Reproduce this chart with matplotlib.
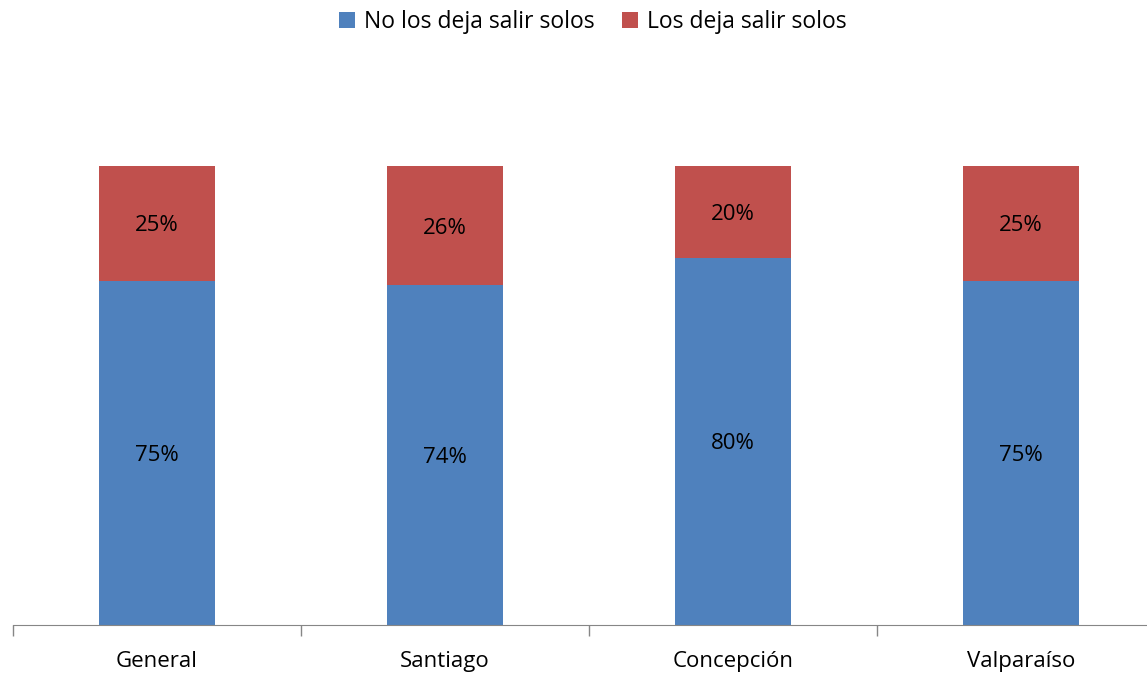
import matplotlib.pyplot as plt
import numpy as np

plt.rcParams['font.family'] = ['Open Sans', 'DejaVu Sans']

categories = ["General", "Santiago", "Concepción", "Valparaíso"]
no_solos = [0.75, 0.74, 0.80, 0.75]
si_solos = [0.25, 0.26, 0.20, 0.25]
series_names = ["No los deja salir solos", "Los deja salir solos"]

blue = "#4F81BD"
red = "#C0504D"

W, H = 1147, 674
fig = plt.figure(figsize=(W / 100, H / 100), dpi=100)
ax = fig.add_axes([13 / W, (H - 625) / H, 1152 / W, 1.2 * 459 / H])

x = np.arange(len(categories))
b1 = ax.bar(x, no_solos, width=0.4, color=blue, label=series_names[0])
b2 = ax.bar(x, si_solos, width=0.4, bottom=no_solos, color=red, label=series_names[1])

# labels in the middle of each segment
for i in range(len(categories)):
    ax.text(x[i], no_solos[i] / 2, f"{no_solos[i]:.0%}", ha="center",
            va="center_baseline", fontsize=16)
    ax.text(x[i], no_solos[i] + si_solos[i] / 2, f"{si_solos[i]:.0%}", ha="center",
            va="center_baseline", fontsize=16)

ax.set_xlim(-0.5, 3.5)
ax.set_ylim(0, 1.2)
for s in ["top", "right", "left"]:
    ax.spines[s].set_visible(False)
ax.spines["bottom"].set_color("#868686")
ax.set_yticks([])
ax.set_xticks(np.arange(-0.5, 4, 1), minor=True)
ax.set_xticks(x)
ax.set_xticklabels(categories, fontsize=16)
ax.tick_params(axis="x", which="major", length=0, pad=19)
ax.tick_params(axis="x", which="minor", length=8, color="#868686", width=1)

fig.legend(handles=[b1, b2], loc="center", bbox_to_anchor=(593 / W, 1 - 22 / H),
           ncol=2, frameon=False, fontsize=16.5, handlelength=0.7, handleheight=0.7,
           handletextpad=0.4, columnspacing=1.2)

fig.savefig("out.png", dpi=100)
